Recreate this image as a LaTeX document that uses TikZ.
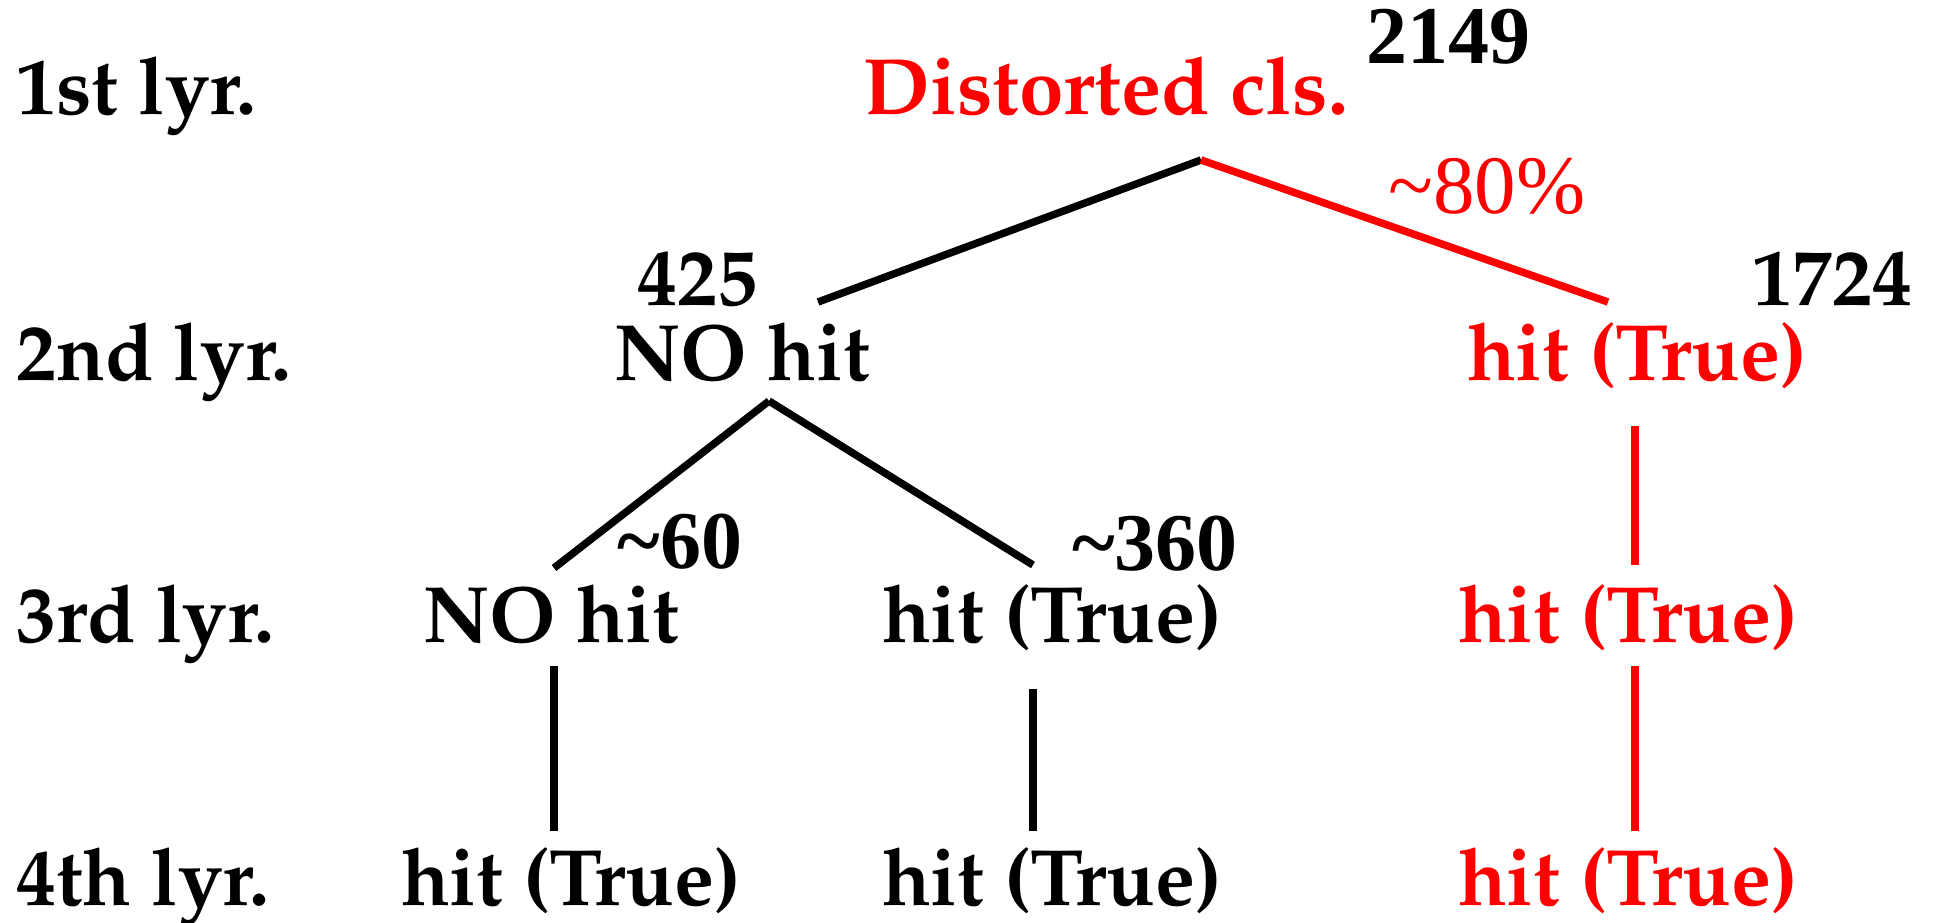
\documentclass[tikz,border=0pt]{standalone}
\usepackage[T1]{fontenc}
\usepackage{fontspec}
\setmainfont{Liberation Serif}
% Palatino bold (URW Palladio, Type 1) for the tree labels
\newcommand\palb{\fontencoding{T1}\fontfamily{ppl}\fontseries{b}\selectfont}
\begin{document}
\begin{tikzpicture}[x=1pt,y=-1pt,
  lbl/.style={font=\palb\fontsize{80}{88}\selectfont, inner sep=0pt, anchor=base},
  cnt/.style={font=\palb\fontsize{80}{88}\selectfont, inner sep=0pt, anchor=base},
  tms/.style={font=\bfseries\fontsize{82}{88}\selectfont, inner sep=0pt, anchor=base},
  tmr/.style={font=\fontsize{83}{90}\selectfont, inner sep=0pt, anchor=base},
  edge/.style={line width=7.5pt},
  redge/.style={line width=7.5pt, red}]
\useasboundingbox (0,0) rectangle (1935,923);

% layer captions
\node[lbl, anchor=base west] (l1) at (16,115) {1st lyr.};
\node[lbl, anchor=base west] (l2) at (16,380) {2nd lyr.};
\node[lbl, anchor=base west] (l3) at (16,642) {3rd lyr.};
\node[lbl, anchor=base west] (l4) at (16,905) {4th lyr.};

% layer 1
\node[lbl, red] (root) at (1106,115) {Distorted cls.};
\node[tms] (n2149) at (1448,64) {2149};

% layer 2
\node[lbl] (a) at (742,380) {NO hit};
\node[cnt] (n425) at (697,305) {425};
\node[lbl, red] (b) at (1637,380) {hit (True)};
\node[cnt] (n1724) at (1832,305) {1724};
\node[tmr, red] (p80) at (1487,213) {\textasciitilde 80\%};

% layer 3
\node[lbl] (c) at (551,642) {NO hit};
\node[lbl] (d) at (1052,642) {hit (True)};
\node[lbl, red] (e) at (1628,642) {hit (True)};
\node[tms] (n60) at (680,568) {\textasciitilde 60};
\node[tms] (n360) at (1155,570) {\textasciitilde 360};

% layer 4
\node[lbl] (f) at (571,905) {hit (True)};
\node[lbl] (g) at (1052,905) {hit (True)};
\node[lbl, red] (h) at (1628,905) {hit (True)};

% branch points
\coordinate (rootapex) at (1201,160);
\coordinate (aleft) at (818,302);
\coordinate (bright) at (1608,302);
\coordinate (aapex) at (769,401);
\coordinate (cend) at (554,568);
\coordinate (dend) at (1033,565);
\coordinate (btop) at (1635,426);
\coordinate (bbot) at (1635,565);
\coordinate (ctop) at (554,666);
\coordinate (cbot) at (554,831);
\coordinate (dtop) at (1033,689);
\coordinate (dbot) at (1033,831);
\coordinate (etop) at (1635,666);
\coordinate (ebot) at (1635,831);

% connectors
\draw[edge] (rootapex) -- (aleft);
\draw[redge] (rootapex) -- (bright);
\draw[edge] (aapex) -- (cend);
\draw[edge] (aapex) -- (dend);
\draw[redge] (btop) -- (bbot);
\draw[edge] (ctop) -- (cbot);
\draw[edge] (dtop) -- (dbot);
\draw[redge] (etop) -- (ebot);
\end{tikzpicture}
\end{document}
